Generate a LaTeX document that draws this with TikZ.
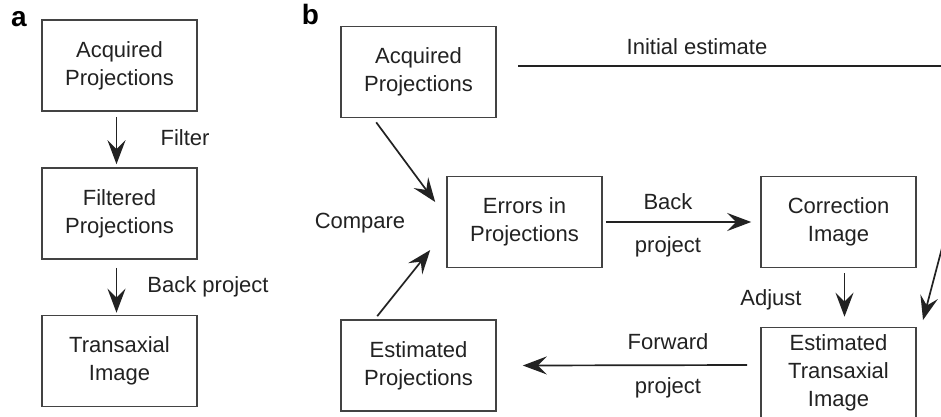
\documentclass[tikz,border=0pt]{standalone}
\usepackage{fontspec}
\setmainfont{Liberation Sans}
\usetikzlibrary{arrows.meta,calc}
\definecolor{ink}{HTML}{222222}
\tikzset{
  box/.style={draw=ink!85, line width=1.6pt, minimum width=155pt, minimum height=91pt,
    align=center, inner sep=2pt, text=ink, font=\fontsize{22}{28}\selectfont},
  lbl/.style={text=ink, font=\fontsize{22}{28}\selectfont, inner sep=0pt},
  panel/.style={text=black, font=\fontsize{28}{30}\selectfont\bfseries, inner sep=0pt},
  flow/.style={draw=ink, line width=1.7pt, -{Stealth[length=24pt,width=18pt,inset=9pt]}},
  plain/.style={draw=ink, line width=1.7pt}
}
\begin{document}
\begin{tikzpicture}[x=1pt,y=-1pt]
\useasboundingbox (0,0) rectangle (941,416);
\clip (0,0) rectangle (941,416);
\fill[white] (0,0) rectangle (941,416);

% panel a: filtered back projection
\node[panel] (pa) at (19,19.5) {a};
\node[box] (a1) at (119.5,65.5) {Acquired\\Projections};
\node[box] (a2) at (119.5,213.5) {Filtered\\Projections};
\node[box] (a3) at (119.5,361) {Transaxial\\Image};
\draw[flow, shorten <=5pt, shorten >=3pt] ([xshift=-3pt]a1.south) -- ([xshift=-3pt]a2.north);
\draw[flow, shorten <=8pt, shorten >=2pt] ([xshift=-3pt]a2.south) -- ([xshift=-3pt]a3.north);
\node[lbl] (tf) at (185,138) {Filter};
\node[lbl] (tb) at (208,287) {Back project};

% panel b: iterative reconstruction
\node[panel] (pb) at (310.5,14.5) {b};
\node[box] (b1) at (418.5,72) {Acquired\\Projections};
\node[box] (b2) at (524.5,222) {Errors in\\Projections};
\node[box] (b3) at (838.5,222) {Correction\\Image};
\node[box] (b4) at (418.5,365.5) {Estimated\\Projections};
\node[box] (b5) at (838.5,373) {Estimated\\Transaxial\\Image};

% initial estimate loop, running past the right edge
\coordinate (ie0) at (518,66);
\coordinate (ie1) at (990,66);
\coordinate (ie2) at (923,320);
\draw[flow] (ie0) -- (ie1) -- (ie2);
\node[lbl] (tie) at (697,47) {Initial estimate};

% compare step
\draw[flow] ($(b1.south west)+(36,4)$) -- ($(b2.west)+(-11,-20)$);
\draw[flow] ($(b4.north west)+(37,-3)$) -- ($(b2.west)+(-16,28)$);
\node[lbl] (tc) at (360,223) {Compare};

% back project
\draw[flow, shorten <=3pt, shorten >=9pt] (b2.east) -- (b3.west);
\node[lbl] (tbk) at (668,202) {Back};
\node[lbl] (tbp) at (668,247) {project};

% adjust
\draw[flow, shorten <=5pt, shorten >=10pt] ([xshift=6pt]b3.south) -- ([xshift=6pt]b5.north);
\node[lbl] (tad) at (771,300) {Adjust};

% forward project
\draw[flow] ($(b5.west)+(-13,-8)$) -- ($(b4.east)+(26,0)$);
\node[lbl] (tfw) at (668,342) {Forward};
\node[lbl] (tfp) at (668,388) {project};
\end{tikzpicture}
\end{document}
